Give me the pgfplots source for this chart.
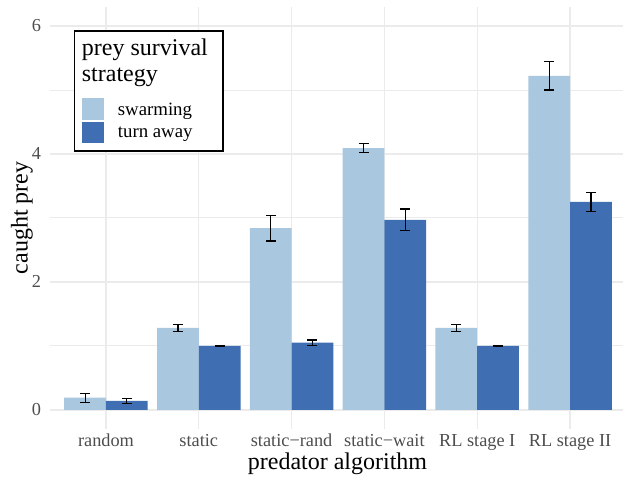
\documentclass[border=0pt]{standalone}
\usepackage{pgfplots}
\pgfplotsset{compat=1.18}
\usepackage{fontspec}
\setmainfont{Liberation Serif}
\definecolor{swarmc}{RGB}{169,199,223}
\definecolor{turnc}{RGB}{63,110,178}
\definecolor{gridc}{RGB}{235,235,235}
\definecolor{tickc}{RGB}{77,77,77}
\pgfplotstableread{
x y e
0.775 0.19 0.07
1.775 1.28 0.055
2.775 2.84 0.20
3.775 4.09 0.07
4.775 1.28 0.05
5.775 5.22 0.22
}\swarming
\pgfplotstableread{
x y e
1.225 0.14 0.04
2.225 1.00 0.004
3.225 1.05 0.04
4.225 2.97 0.17
5.225 1.00 0.004
6.225 3.25 0.145
}\turnaway
\begin{document}
\begin{tikzpicture}[x=1pt,y=1pt]
\useasboundingbox (0,0) rectangle (623,476);
\begin{axis}[
  at={(50.3pt,47pt)}, anchor=south west, scale only axis,
  width=572.7pt, height=422.2pt,
  xmin=0.4, xmax=6.571, ymin=-0.3, ymax=6.3,
  axis line style={draw=none},
  major tick length=0pt, minor tick length=0pt,
  xtick={1,2,3,4,5,6},
  xticklabels={random,static,static−rand,static−wait,RL stage I,RL stage II},
  ytick={0,2,4,6}, minor ytick={1,3,5},
  xmajorgrids, ymajorgrids, yminorgrids,
  major grid style={draw=gridc, line width=1.4pt},
  minor grid style={draw=gridc, line width=0.8pt},
  ticklabel style={font=\fontsize{18.3}{22}\selectfont, text=tickc},
  /pgf/number format/assume math mode=true,
  xticklabel style={anchor=base, inner sep=0pt, yshift=-18pt},
  yticklabel style={anchor=east, inner sep=0pt, xshift=-9pt},
  clip=false,
]
\addplot[ybar, bar width=0.45, bar shift=0pt, fill=swarmc, draw=none,
  error bars/.cd, y dir=both, y explicit,
  error bar style={draw=black, line width=1.2pt},
  error mark options={draw=black, line width=1.2pt, mark size=5pt, rotate=90}]
  table[x=x, y=y, y error=e] {\swarming};
\addplot[ybar, bar width=0.45, bar shift=0pt, fill=turnc, draw=none,
  error bars/.cd, y dir=both, y explicit,
  error bar style={draw=black, line width=1.2pt},
  error mark options={draw=black, line width=1.2pt, mark size=5pt, rotate=90}]
  table[x=x, y=y, y error=e] {\turnaway};
\end{axis}
\node[anchor=base, inner sep=0pt, font=\fontsize{24}{28}\selectfont] at (337.5,6) {predator algorithm};
\node[rotate=90, inner sep=0pt, font=\fontsize{24}{28}\selectfont] at (22,258) {caught prey};
% legend
\draw[line width=1.3pt, fill=white] (74.5,445) rectangle (223,325);
\node[anchor=base west, inner sep=0pt, font=\fontsize{24}{28}\selectfont] at (81.7,420.3) {prey survival};
\node[anchor=base west, inner sep=0pt, font=\fontsize{24}{28}\selectfont] at (81.7,394.3) {strategy};
\fill[swarmc] (82,378.3) rectangle (104,356);
\fill[turnc] (82,354) rectangle (104,332.7);
\node[anchor=base west, inner sep=0pt, font=\fontsize{18.8}{22}\selectfont] at (117.7,360.5) {swarming};
\node[anchor=base west, inner sep=0pt, font=\fontsize{18.8}{22}\selectfont] at (117.7,338) {turn away};
\end{tikzpicture}
\end{document}
